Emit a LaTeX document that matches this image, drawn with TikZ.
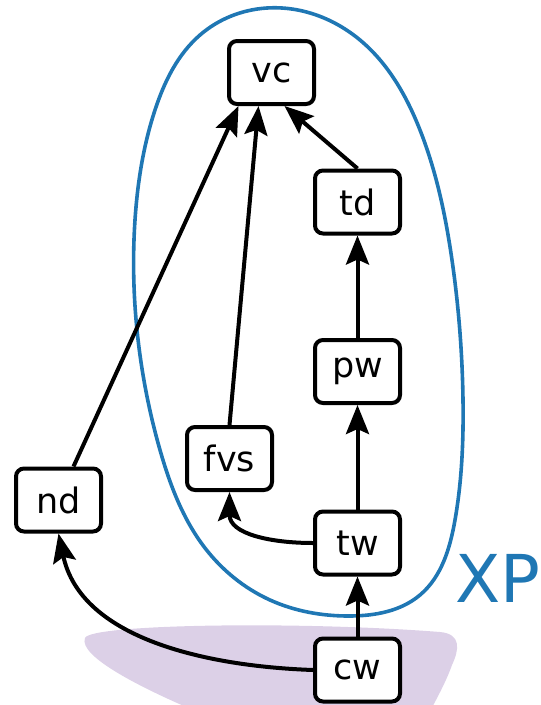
\documentclass[tikz,border=0pt]{standalone}
\usepackage{fontspec}
\setmainfont{DejaVu Sans}
\usetikzlibrary{arrows.meta,hobby}
\definecolor{xpblue}{HTML}{1F77B4}
\definecolor{blobpurple}{HTML}{DCD0E7}
\tikzset{
  box/.style={draw, line width=4pt, rounded corners=8pt, fill=white,
    minimum width=85pt, minimum height=63pt, inner sep=0pt,
    font=\fontsize{35}{38}\selectfont},
  edge/.style={line width=4pt, -{Stealth[length=29pt,width=23pt,inset=5pt]}},
}
\begin{document}
\begin{tikzpicture}[x=1pt,y=-1pt]
\useasboundingbox (0,0) rectangle (541,705);
% shaded region under cw
\begin{scope}
  \clip (0,0) rectangle (541,705);
  \fill[blobpurple] (85,638) .. controls (90,624) and (300,621) .. (440,632)
    .. controls (462,634) and (459,650) .. (452,665)
    .. controls (446,682) and (436,700) .. (428,715)
    -- (205,715) .. controls (140,688) and (78,656) .. (85,638) -- cycle;
\end{scope}
% XP set boundary
\draw[xpblue, line width=3.6pt, use Hobby shortcut, closed=true]
  (267,8) .. (360,40) .. (420,130) .. (452,260) .. (463,400) .. (455,520)
  .. (420,595) .. (350,616) .. (270,600) .. (205,548) .. (160,450)
  .. (137,330) .. (135,220) .. (155,110) .. (200,35);
\node[xpblue, anchor=south west, inner sep=0pt, font=\fontsize{66}{70}\selectfont]
  (xp) at (455,603) {XP};
% nodes
\node[box] (vc)  at (271.5,72.5) {vc};
\node[box] (td)  at (357.5,202)  {td};
\node[box] (pw)  at (357.5,371.5){pw};
\node[box] (fvs) at (229.5,458.5){fvs};
\node[box] (nd)  at (58.5,500)   {nd};
\node[box] (tw)  at (357.5,543)  {tw};
\node[box] (cw)  at (357.5,670)  {cw};
% connectors
\draw[edge] ([xshift=15pt]nd.north) -- ([xshift=-33pt]vc.south);
\draw[edge] (fvs.north) -- ([xshift=-13pt]vc.south);
\draw[edge] (td.north) -- ([xshift=13pt]vc.south);
\draw[edge] (pw.north) -- (td.south);
\draw[edge] (tw.north) -- (pw.south);
\draw[edge] (cw.north) -- (tw.south);
\draw[edge] (tw.west) to[out=180, in=-90, looseness=1.1] (fvs.south);
\draw[edge] (cw.west) to[out=178, in=-78, looseness=0.95] (nd.south);
\end{tikzpicture}
\end{document}
